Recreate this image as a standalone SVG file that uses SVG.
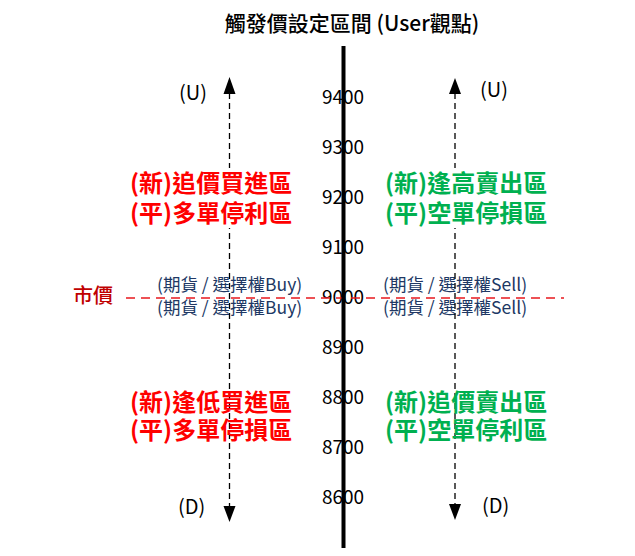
<svg xmlns="http://www.w3.org/2000/svg" width="635" height="556" viewBox="0 0 635 556">
<style>
text{font-family:"Noto Sans CJK TC","Noto Sans",sans-serif}
.title{font-size:21px;font-weight:500;fill:#000}
.num{font-size:19px;fill:#000;text-anchor:middle}
.ud{font-size:20px;fill:#000}
.red{font-size:24px;font-weight:bold;fill:#FF0000}
.green{font-size:24px;font-weight:bold;fill:#00B050}
.blue{font-size:17.5px;fill:#203864}
.mkt{font-size:20px;font-weight:500;fill:#C00000}
.dash{stroke:#000;stroke-width:1.3;stroke-dasharray:6 4;fill:none}
.head{fill:#000}
</style>
<rect width="635" height="556" fill="#fff"/>
<g id="title"><text class="title" x="352" y="31" text-anchor="middle">觸發價設定區間 (User觀點)</text></g>
<g id="scale">
<text class="num" x="343" y="104">9400</text>
<text class="num" x="343" y="154">9300</text>
<text class="num" x="343" y="204">9200</text>
<text class="num" x="343" y="254">9100</text>
<text class="num" x="343" y="304">9000</text>
<text class="num" x="343" y="354">8900</text>
<text class="num" x="343" y="404">8800</text>
<text class="num" x="343" y="454">8700</text>
<text class="num" x="343" y="504">8600</text>
</g>
<g id="blue-labels">
<text class="blue" x="157" y="291">(期貨 / 選擇權Buy)</text>
<text class="blue" x="157" y="314">(期貨 / 選擇權Buy)</text>
<text class="blue" x="383" y="291">(期貨 / 選擇權Sell)</text>
<text class="blue" x="383" y="314">(期貨 / 選擇權Sell)</text>
</g>
<g id="connectors">
<line class="dash" x1="229.5" y1="93" x2="229.5" y2="508"/>
<polygon class="head" points="229.5,77 223.5,94 235.5,94"/>
<polygon class="head" points="229.5,522 223.5,506 235.5,506"/>
<line class="dash" x1="455" y1="93" x2="455" y2="506"/>
<polygon class="head" points="455,78 449,94 461,94"/>
<polygon class="head" points="455,520 449,504 461,504"/>
<line x1="126" y1="298" x2="564" y2="298" stroke="#E8191E" stroke-width="1.3" stroke-dasharray="9 6"/>
<line x1="343.5" y1="46" x2="343.5" y2="548" stroke="#000" stroke-width="4"/>
</g>
<g id="market"><text class="mkt" x="73" y="303">市價</text></g>
<g id="up-left"><text class="ud" x="179" y="100">(U)</text></g>
<g id="up-right"><text class="ud" x="480" y="97">(U)</text></g>
<g id="down-left"><text class="ud" x="178" y="514">(D)</text></g>
<g id="down-right"><text class="ud" x="482" y="513">(D)</text></g>
<g id="zone-buy-up">
<rect x="128" y="168" width="168" height="60" fill="#fff"/>
<text class="red" x="130" y="192">(新)追價買進區</text>
<text class="red" x="130" y="222">(平)多單停利區</text>
</g>
<g id="zone-sell-up">
<rect x="383" y="168" width="168" height="60" fill="#fff"/>
<text class="green" x="385" y="192">(新)逢高賣出區</text>
<text class="green" x="385" y="222">(平)空單停損區</text>
</g>
<g id="zone-buy-down">
<text class="red" x="130" y="411">(新)逢低買進區</text>
<text class="red" x="130" y="439">(平)多單停損區</text>
</g>
<g id="zone-sell-down">
<text class="green" x="385" y="411">(新)追價賣出區</text>
<text class="green" x="385" y="439">(平)空單停利區</text>
</g>
</svg>
